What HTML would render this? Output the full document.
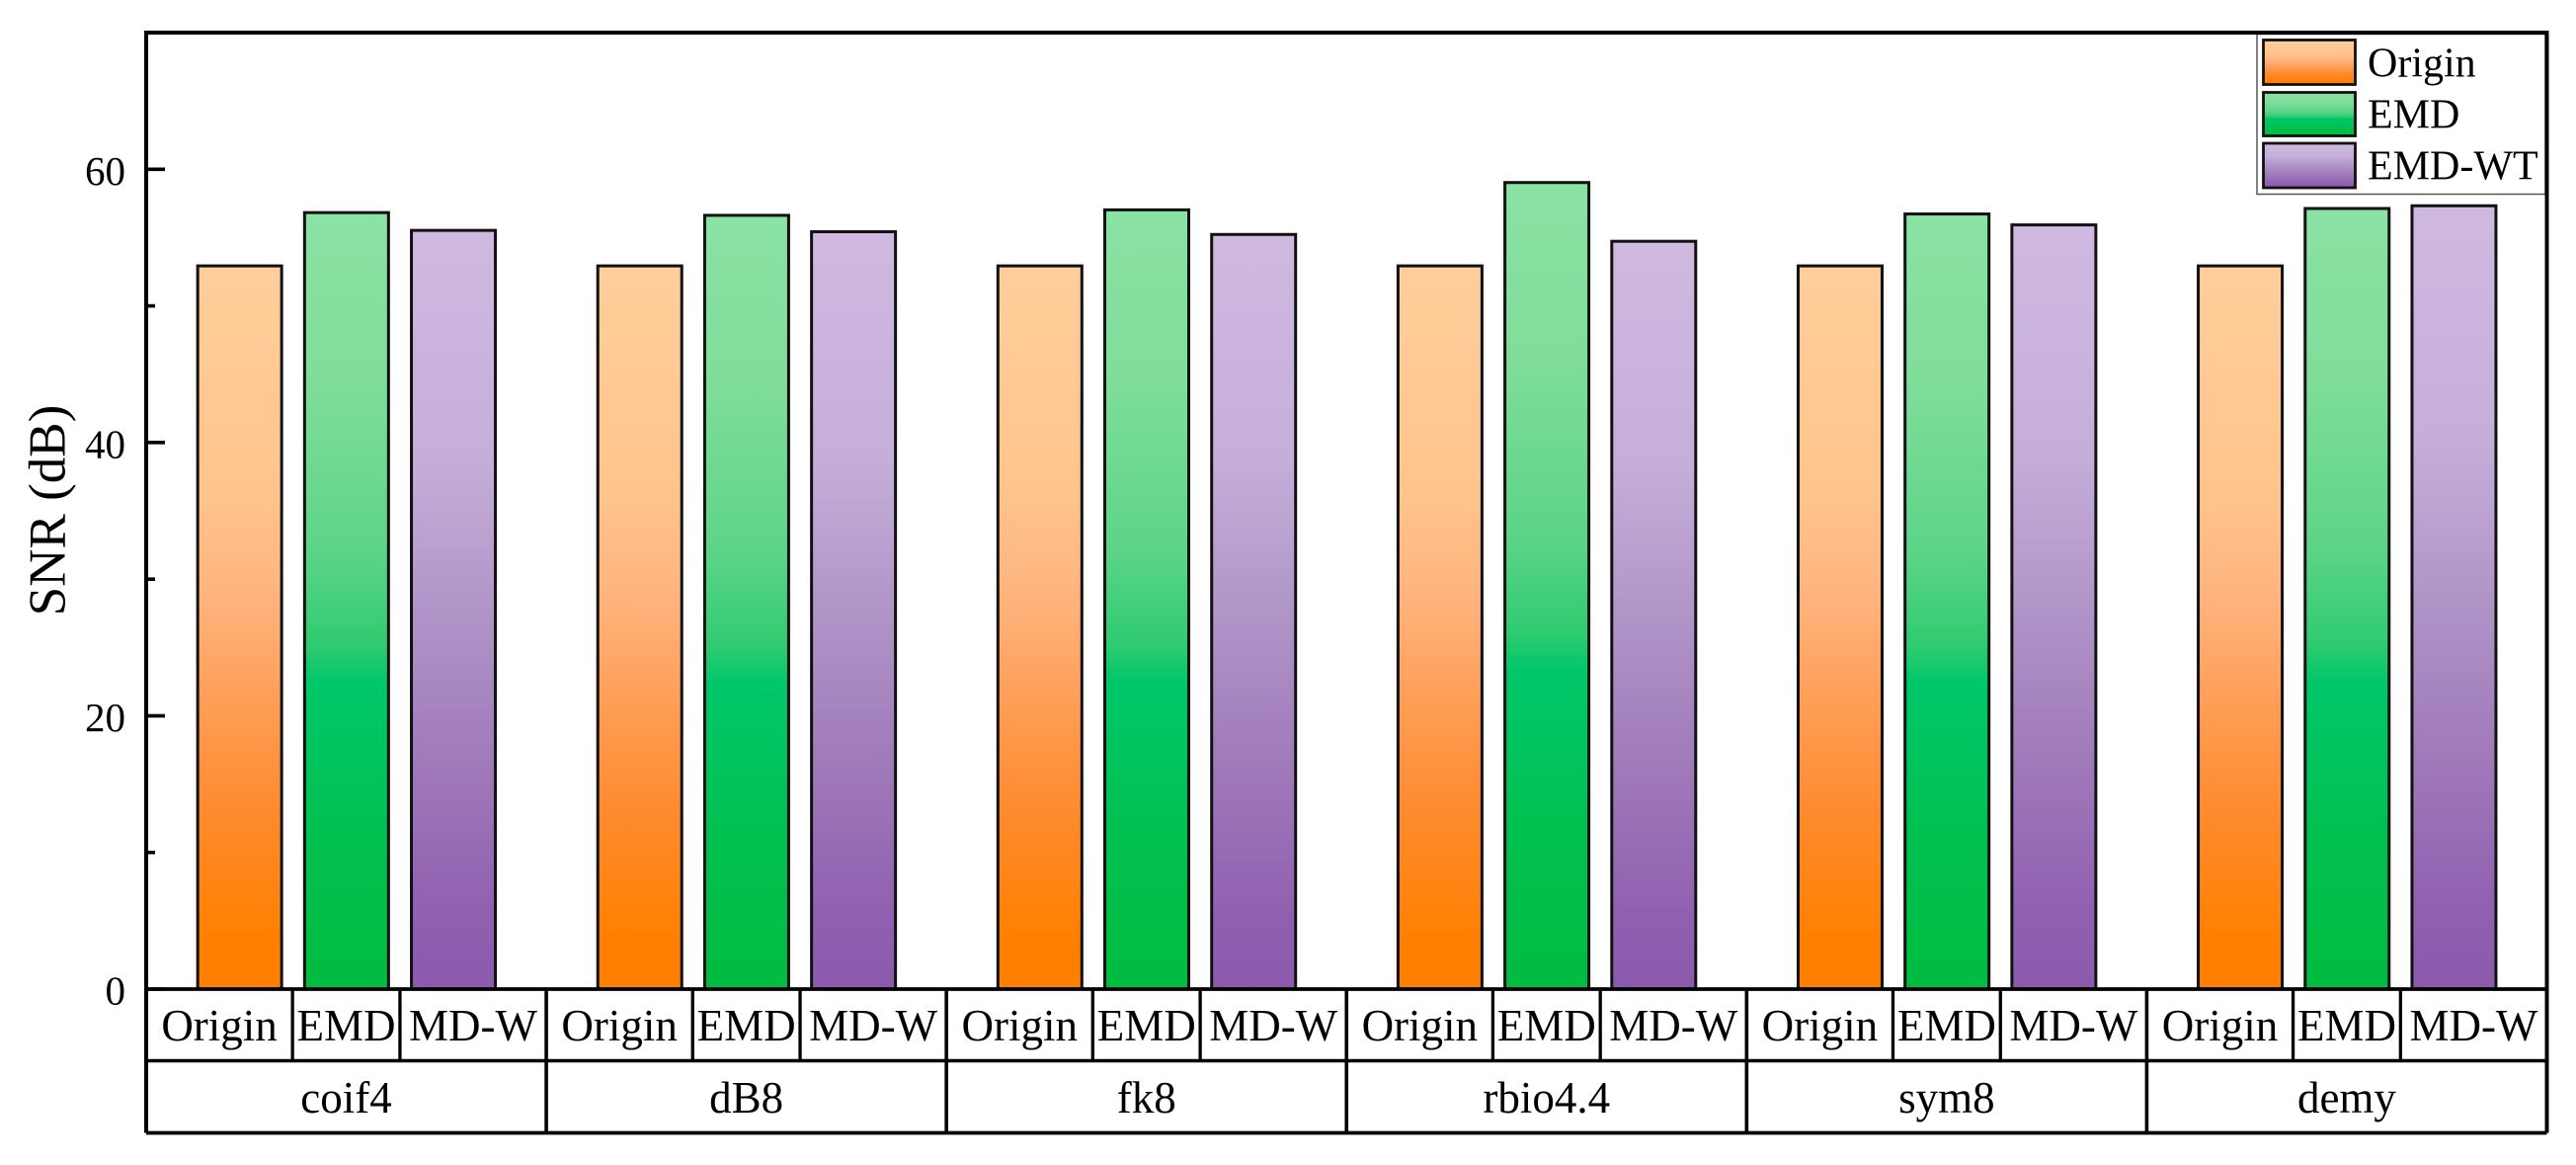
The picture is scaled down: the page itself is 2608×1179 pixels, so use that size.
<!DOCTYPE html>
<html lang="en">
<head>
<meta charset="utf-8">
<title>SNR by wavelet basis</title>
<style>
  html, body { margin: 0; padding: 0; background: #fff; width: 2608px; height: 1179px; overflow: hidden; }
  svg { display: block; }
  text { font-family: "Liberation Serif", "Times New Roman", serif; fill: #000; }
</style>
</head>
<body>
<svg id="chart" xmlns="http://www.w3.org/2000/svg" width="2608" height="1179" viewBox="0 0 2608 1179">
  <defs>
    <linearGradient id="grad-0" x1="0" y1="0" x2="0" y2="1">
      <stop offset="0" stop-color="#FFCE9B"/>
      <stop offset="0.32" stop-color="#FFC48C"/>
      <stop offset="0.47" stop-color="#FFB27B"/>
      <stop offset="0.61" stop-color="#FF9D55"/>
      <stop offset="0.75" stop-color="#FF8B2F"/>
      <stop offset="0.93" stop-color="#FF8000"/>
      <stop offset="1" stop-color="#FF8000"/>
    </linearGradient>
    <linearGradient id="grad-1" x1="0" y1="0" x2="0" y2="1">
      <stop offset="0" stop-color="#8AE2A4"/>
      <stop offset="0.22" stop-color="#7FDD99"/>
      <stop offset="0.44" stop-color="#5CD488"/>
      <stop offset="0.56" stop-color="#2ECB70"/>
      <stop offset="0.605" stop-color="#00C76A"/>
      <stop offset="0.8" stop-color="#00C050"/>
      <stop offset="1" stop-color="#00BC3F"/>
    </linearGradient>
    <linearGradient id="grad-2" x1="0" y1="0" x2="0" y2="1">
      <stop offset="0" stop-color="#CFB9E0"/>
      <stop offset="0.3" stop-color="#C5AEDA"/>
      <stop offset="0.5" stop-color="#B095C8"/>
      <stop offset="0.7" stop-color="#A07ABA"/>
      <stop offset="0.9" stop-color="#9060B0"/>
      <stop offset="1" stop-color="#8B5AAE"/>
    </linearGradient>
  </defs>
</svg>
<script>
// Chart data
var groups = ["coif4", "dB8", "fk8", "rbio4.4", "sym8", "demy"];
var seriesLabels = ["Origin", "EMD", "MD-W"];
var legendLabels = ["Origin", "EMD", "EMD-WT"];
var originValues = [53.0, 53.0, 53.0, 53.0, 53.0, 53.0];
var emdValues = [56.9, 56.7, 57.1, 59.1, 56.8, 57.2];
var emdWtValues = [55.6, 55.5, 55.3, 54.8, 56.0, 57.4];
var majorTicks = [0, 20, 40, 60];
var minorTicks = [10, 30, 50];
var yAxisMax = 70;

var seriesValues = [originValues, emdValues, emdWtValues];

var svg = document.getElementById('chart');
var NS = 'http://www.w3.org/2000/svg';

var plotLeft = 148, plotRight = 2578.5, plotTop = 33, plotBottom = 1001;
var row1Bottom = 1073.5, row2Bottom = 1146.5;

function yScale(v) {
  return plotBottom - v * (plotBottom - plotTop) / yAxisMax;
}
function groupCenter(i) {
  return plotLeft + (plotRight - plotLeft) / groups.length * (i + 0.5);
}
function groupEdge(i) {
  return plotLeft + (plotRight - plotLeft) / groups.length * i;
}
function barCenter(i, j) {
  return groupCenter(i) + (j - 1) * 108.2;
}
function make(tag, attrs, parent) {
  var el = document.createElementNS(NS, tag);
  for (var k in attrs) { el.setAttribute(k, attrs[k]); }
  (parent || svg).appendChild(el);
  return el;
}
function lineEl(x1, y1, x2, y2, w, color) {
  return make('line', { x1: x1, y1: y1, x2: x2, y2: y2, stroke: color || '#000', 'stroke-width': w });
}
function textEl(str, x, y, size, anchor) {
  var t = make('text', { x: x, y: y, 'font-size': size, 'text-anchor': anchor || 'middle' });
  t.textContent = str;
  return t;
}

// Bars
var barW = 85;
for (var i = 0; i < groups.length; i++) {
  for (var j = 0; j < seriesValues.length; j++) {
    var topY = yScale(seriesValues[j][i]) + 1;
    var bar = make('rect', {
      x: barCenter(i, j) - barW / 2 + 0.3,
      y: topY,
      width: barW,
      height: plotBottom - topY,
      fill: 'url(#grad-' + j + ')',
      stroke: '#111',
      'stroke-width': 3
    });
    
    
  }
}

// Y axis ticks
majorTicks.forEach(function (v) {
  var tick = lineEl(plotLeft, yScale(v), 167, yScale(v), 3.6);
  
  
  var label = textEl(String(v), 127, yScale(v) + 15.5, 41, 'end');
  
  
});
minorTicks.forEach(function (v) {
  var tick = lineEl(plotLeft, yScale(v), 157, yScale(v), 3.6);
  
  
});

// Y axis title
var yTitle = make('text', { transform: 'translate(65.5 516.5) rotate(-90)', 'font-size': 53, 'text-anchor': 'middle' });
yTitle.textContent = 'SNR (dB)';



// Category table: row lines
var rowLine0 = lineEl(plotLeft, plotBottom, plotRight, plotBottom, 3.8);


var rowLine1 = lineEl(plotLeft, row1Bottom, plotRight, row1Bottom, 3.6);


var rowLine2 = lineEl(plotLeft, row2Bottom, plotRight, row2Bottom, 3.8);



// Category table: dividers and labels
for (var g = 0; g < groups.length; g++) {
  if (g > 0) {
    var divider = lineEl(groupEdge(g), plotBottom, groupEdge(g), row2Bottom, 3.6);
    
    
  }
  var d1 = lineEl(groupCenter(g) - 54.4, plotBottom, groupCenter(g) - 54.4, row1Bottom, 3.3);
  
  
  var d2 = lineEl(groupCenter(g) + 54.4, plotBottom, groupCenter(g) + 54.4, row1Bottom, 3.3);
  
  

  var cellCenters = [
    (groupEdge(g) + groupCenter(g) - 54.4) / 2,
    groupCenter(g),
    (groupCenter(g) + 54.4 + groupEdge(g + 1)) / 2
  ];
  for (var s = 0; s < seriesLabels.length; s++) {
    var sl = textEl(seriesLabels[s], cellCenters[s], 1053, 45);
    
    
  }
  var gl = textEl(groups[g], groupCenter(g), 1126, 45);
  
  
}

// Frame
var frame = make('path', {
  d: 'M' + plotLeft + ' ' + row2Bottom + 'V' + plotTop + 'H' + plotRight + 'V' + row2Bottom,
  fill: 'none', stroke: '#000', 'stroke-width': 4, 'stroke-linejoin': 'miter'
});



// Legend
var legendBox = make('rect', { x: 2285, y: 34.5, width: 292, height: 162, fill: '#fff', stroke: '#555', 'stroke-width': 1.5 });


var swatchTops = [40.5, 93.5, 145];
var swatchHeights = [45, 44, 45];
var legendBaselines = [77.3, 129.5, 181.7];
for (var n = 0; n < legendLabels.length; n++) {
  var swatch = make('rect', {
    x: 2291.5, y: swatchTops[n], width: 93, height: swatchHeights[n],
    fill: 'url(#grad-' + n + ')', stroke: '#111', 'stroke-width': 2.8
  });
  
  
  var lt = textEl(legendLabels[n], 2397, legendBaselines[n], 42, 'start');
  
  
}
var frameTopRedraw = lineEl(2284, plotTop, plotRight + 2, plotTop, 4);


var frameRightRedraw = lineEl(plotRight, plotTop, plotRight, 198, 4);


</script>
</body>
</html>
